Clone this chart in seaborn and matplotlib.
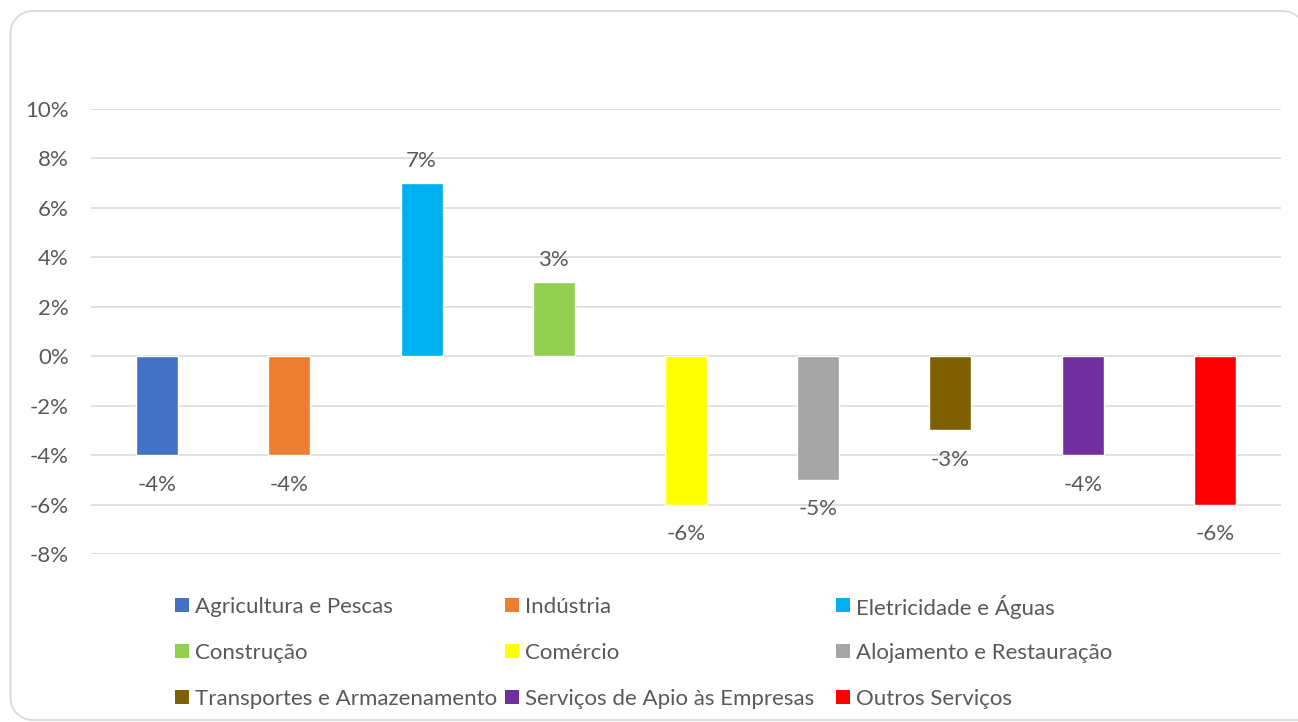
import matplotlib
matplotlib.use("Agg")
import matplotlib.pyplot as plt
from matplotlib.patches import PathPatch, Rectangle
from matplotlib.path import Path
from matplotlib.transforms import IdentityTransform
import numpy as np
import seaborn as sns
import pandas as pd

# Variação por sector de actividade (%)
sectors = [
    "Agricultura e Pescas",
    "Indústria",
    "Eletricidade e Águas",
    "Construção",
    "Comércio",
    "Alojamento e Restauração",
    "Transportes e Armazenamento",
    "Serviços de Apio às Empresas",
    "Outros Serviços",
]
values = [-4, -4, 7, 3, -6, -5, -3, -4, -6]
colors = ["#4472C4", "#ED7D31", "#00B0F0", "#92D050", "#FFFF00",
          "#A5A5A5", "#7F6000", "#7030A0", "#FF0000"]
yticks = [-8, -6, -4, -2, 0, 2, 4, 6, 8, 10]

TEXT = "#595959"
GRID = "#D9D9D9"
FS = 16

sns.set_theme(style="white")
plt.rcParams["font.family"] = ["Lato", "DejaVu Sans"]

df = pd.DataFrame({"sector": sectors, "value": values})

W, H = 1298, 722
fig = plt.figure(figsize=(W / 100, H / 100), dpi=100)
fig.patch.set_facecolor("white")
fig.patch.set_linewidth(0)


def arc(cx, cy, r, a0, a1, n=24):
    t = np.radians(np.linspace(a0, a1, n))
    return list(zip(cx + r * np.cos(t), cy + r * np.sin(t)))


# outer rounded frame in pixel coordinates; its right side lies off the canvas
xl, xr, yb, yt, r = 10.5, 1305.0, H - 720.0, H - 11.0, 22.0
pts = [(xr + 30, yb)]
pts += arc(xl + r, yb + r, r, 270, 180)
pts += arc(xl + r, yt - r, r, 180, 90)
pts += arc(xr - r, yt - r, r, 90, 0)
pts += [(xr, yt - r - 40)]
frame = PathPatch(Path(pts), transform=IdentityTransform(), fill=False,
                  edgecolor=GRID, linewidth=1.3)
fig.patches.append(frame)

ax = fig.add_axes([91 / W, 1 - 554 / H, (1281 - 91) / W, (554 - 109) / H])
sns.barplot(data=df, x="sector", y="value", hue="sector", palette=colors,
            order=sectors, hue_order=sectors, width=0.318, dodge=False,
            legend=False, ax=ax, saturation=1)

ax.set_ylim(-8, 10)
ax.set_xlim(-0.5, len(sectors) - 0.5)
ax.set_yticks(yticks)
ax.set_yticklabels([f"{t}%" for t in yticks], color=TEXT, fontsize=FS)
ax.tick_params(axis="y", length=0, pad=16)
ax.set_xticks([])
ax.set_xlabel("")
ax.set_ylabel("")
for s in ax.spines.values():
    s.set_visible(False)
ax.grid(axis="y", color=GRID, linewidth=1.1)
ax.set_axisbelow(True)

# value labels: above positive bars, below negative bars
for cont in ax.containers:
    vals = cont.datavalues
    ax.bar_label(cont, labels=[f"{v:.0f}%" if v >= 0 else "" for v in vals],
                 padding=8.5, color=TEXT, fontsize=FS)
    ax.bar_label(cont, labels=[f"{v:.0f}%" if v < 0 else "" for v in vals],
                 padding=14, color=TEXT, fontsize=FS)

# legend: three fixed columns, entries filled row by row
col_x = [175, 505, 836]
row_y = [605, 651, 697]
sw = 14
for i, (name, c) in enumerate(zip(sectors, colors)):
    x0 = col_x[i % 3]
    y0 = row_y[i // 3]
    fig.patches.append(Rectangle((x0, H - y0 - sw / 2), sw, sw,
                                 transform=IdentityTransform(),
                                 facecolor=c, edgecolor="none"))
    fig.text((x0 + sw + 6) / W, 1 - y0 / H, name, color=TEXT, fontsize=FS,
             ha="left", va="center_baseline")

fig.savefig("out.png", dpi=100, facecolor="white")
